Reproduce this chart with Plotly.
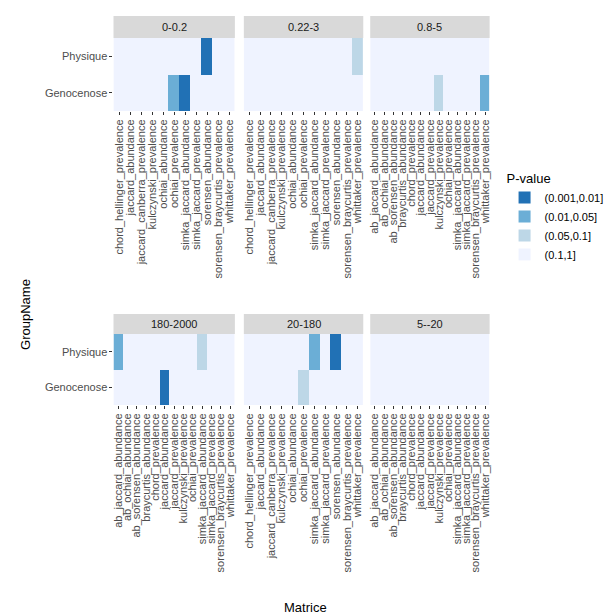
import plotly.graph_objects as go

# fraction ranges (facets), in the order they appear
facets = ["0-0.2", "0.22-3", "0.8-5", "180-2000", "20-180", "5--20"]

matrices_a = ["chord_hellinger_prevalence", "jaccard_abundance", "jaccard_canberra_prevalence",
              "kulczynski_prevalence", "ochiai_abundance", "ochiai_prevalence",
              "simka_jaccard_abundance", "simka_jaccard_prevalence", "sorensen_abundance",
              "sorensen_braycurtis_prevalence", "whittaker_prevalence"]
matrices_b = ["ab_jaccard_abundance", "ab_ochiai_abundance", "ab_sorensen_abundance",
              "braycurtis_abundance", "chord_prevalence", "jaccard_abundance",
              "jaccard_prevalence", "kulczynski_prevalence", "ochiai_prevalence",
              "simka_jaccard_abundance", "simka_jaccard_prevalence",
              "sorensen_braycurtis_prevalence", "whittaker_prevalence"]
facet_matrices = [matrices_a, matrices_a, matrices_b, matrices_b, matrices_a, matrices_b]

groups = ["Genocenose", "Physique"]
pvalue_bins = ["(0.001,0.01]", "(0.01,0.05]", "(0.05,0.1]", "(0.1,1]"]
bin_colors = ["#2171b5", "#6baed6", "#bdd7e7", "#eff3ff"]

# cells with P-value below 0.1 (everything else is (0.1,1])
sig_facet = ["0-0.2", "0-0.2", "0-0.2", "0.22-3", "0.8-5", "0.8-5",
             "180-2000", "180-2000", "180-2000", "20-180", "20-180", "20-180"]
sig_matrice = ["ochiai_prevalence", "simka_jaccard_abundance", "sorensen_abundance",
               "whittaker_prevalence", "kulczynski_prevalence", "whittaker_prevalence",
               "ab_jaccard_abundance", "simka_jaccard_abundance", "jaccard_abundance",
               "ochiai_prevalence", "simka_jaccard_abundance", "sorensen_abundance"]
sig_group = ["Genocenose", "Genocenose", "Physique", "Physique", "Genocenose", "Genocenose",
             "Physique", "Physique", "Genocenose", "Genocenose", "Physique", "Physique"]
sig_bin = ["(0.01,0.05]", "(0.001,0.01]", "(0.001,0.01]", "(0.05,0.1]", "(0.05,0.1]", "(0.01,0.05]",
           "(0.01,0.05]", "(0.05,0.1]", "(0.001,0.01]", "(0.05,0.1]", "(0.01,0.05]", "(0.001,0.01]"]

W = 612
xdoms = [(104 / W, 226 / W), (235 / W, 355 / W), (362 / W, 482 / W)]
ydoms = [(1 - 103 / W, 1 - 30 / W), (1 - 397 / W, 1 - 326 / W)]
strips = [(1 - 30 / W, 1 - 8 / W), (1 - 326 / W, 1 - 306 / W)]

colorscale = []
for i, c in enumerate(bin_colors):
    colorscale += [[i / 4, c], [(i + 1) / 4, c]]

fig = go.Figure()
layout = dict(shapes=[], annotations=[])
tick_font = dict(family="Liberation Sans, Arial", size=11, color="#4d4d4d")

for k, fac in enumerate(facets):
    r, c = divmod(k, 3)
    mats = facet_matrices[k]
    z = [[3 for _ in mats] for _ in groups]
    for f, m, g, b in zip(sig_facet, sig_matrice, sig_group, sig_bin):
        if f == fac:
            z[groups.index(g)][mats.index(m)] = pvalue_bins.index(b)
    n = k + 1
    xa = "x" if n == 1 else f"x{n}"
    ya = "y" if n == 1 else f"y{n}"
    fig.add_trace(go.Heatmap(x=mats, y=groups, z=[[v + 0.5 for v in row] for row in z],
                             zmin=0, zmax=4, colorscale=colorscale, showscale=False,
                             hoverinfo="skip", xaxis=xa, yaxis=ya))
    layout[f"xaxis{n}"] = dict(domain=xdoms[c], anchor=ya, tickangle=-90, ticks="outside",
                               ticklen=3, tickcolor="#333", tickfont=tick_font,
                               tickmode="array", tickvals=mats, ticktext=mats,
                               showgrid=False, zeroline=False, showline=False,
                               categoryorder="array", categoryarray=mats,
                               range=[-0.5, len(mats) - 0.5])
    layout[f"yaxis{n}"] = dict(domain=ydoms[r], anchor=xa, ticks="outside" if c == 0 else "",
                               ticklen=3, tickcolor="#333", tickfont=tick_font,
                               showticklabels=(c == 0), showgrid=False, zeroline=False,
                               categoryorder="array", categoryarray=groups,
                               range=[-0.5, 1.5])
    layout["shapes"].append(dict(type="rect", xref="paper", yref="paper",
                                 x0=xdoms[c][0], x1=xdoms[c][1], y0=strips[r][0], y1=strips[r][1],
                                 fillcolor="#d9d9d9", line=dict(width=0)))
    layout["annotations"].append(dict(text=fac, xref="paper", yref="paper",
                                      x=sum(xdoms[c]) / 2, y=sum(strips[r]) / 2,
                                      xanchor="center", yanchor="middle",
                                      showarrow=False, font=dict(family="Liberation Sans, Arial",
                                                                 size=11, color="#1a1a1a")))

for b, col in zip(pvalue_bins, bin_colors):
    fig.add_trace(go.Scatter(x=[None], y=[None], mode="markers", name=b,
                             marker=dict(symbol="square", size=18, color=col),
                             xaxis="x", yaxis="y"))

layout["annotations"] += [
    dict(text="GroupName", xref="paper", yref="paper", x=15 / W, y=0.5, textangle=-90,
         xanchor="center", yanchor="middle",
         showarrow=False, font=dict(family="Liberation Sans, Arial", size=13, color="#000")),
    dict(text="Matrice", xref="paper", yref="paper", x=0.485, y=1 - 599 / W,
         xanchor="center", yanchor="middle",
         showarrow=False, font=dict(family="Liberation Sans, Arial", size=13, color="#000")),
]

fig.update_layout(**layout)
fig.update_layout(width=612, height=612, margin=dict(l=0, r=0, t=0, b=0),
                  plot_bgcolor="white", paper_bgcolor="white",
                  legend=dict(title=dict(text="P-value", font=dict(size=13)),
                              x=497 / W, y=1 - 158 / W, xanchor="left", yanchor="top",
                              font=dict(family="Liberation Sans, Arial", size=11, color="#000"),
                              tracegroupgap=0, itemsizing="constant", itemwidth=30))
fig.write_html("out.html")
